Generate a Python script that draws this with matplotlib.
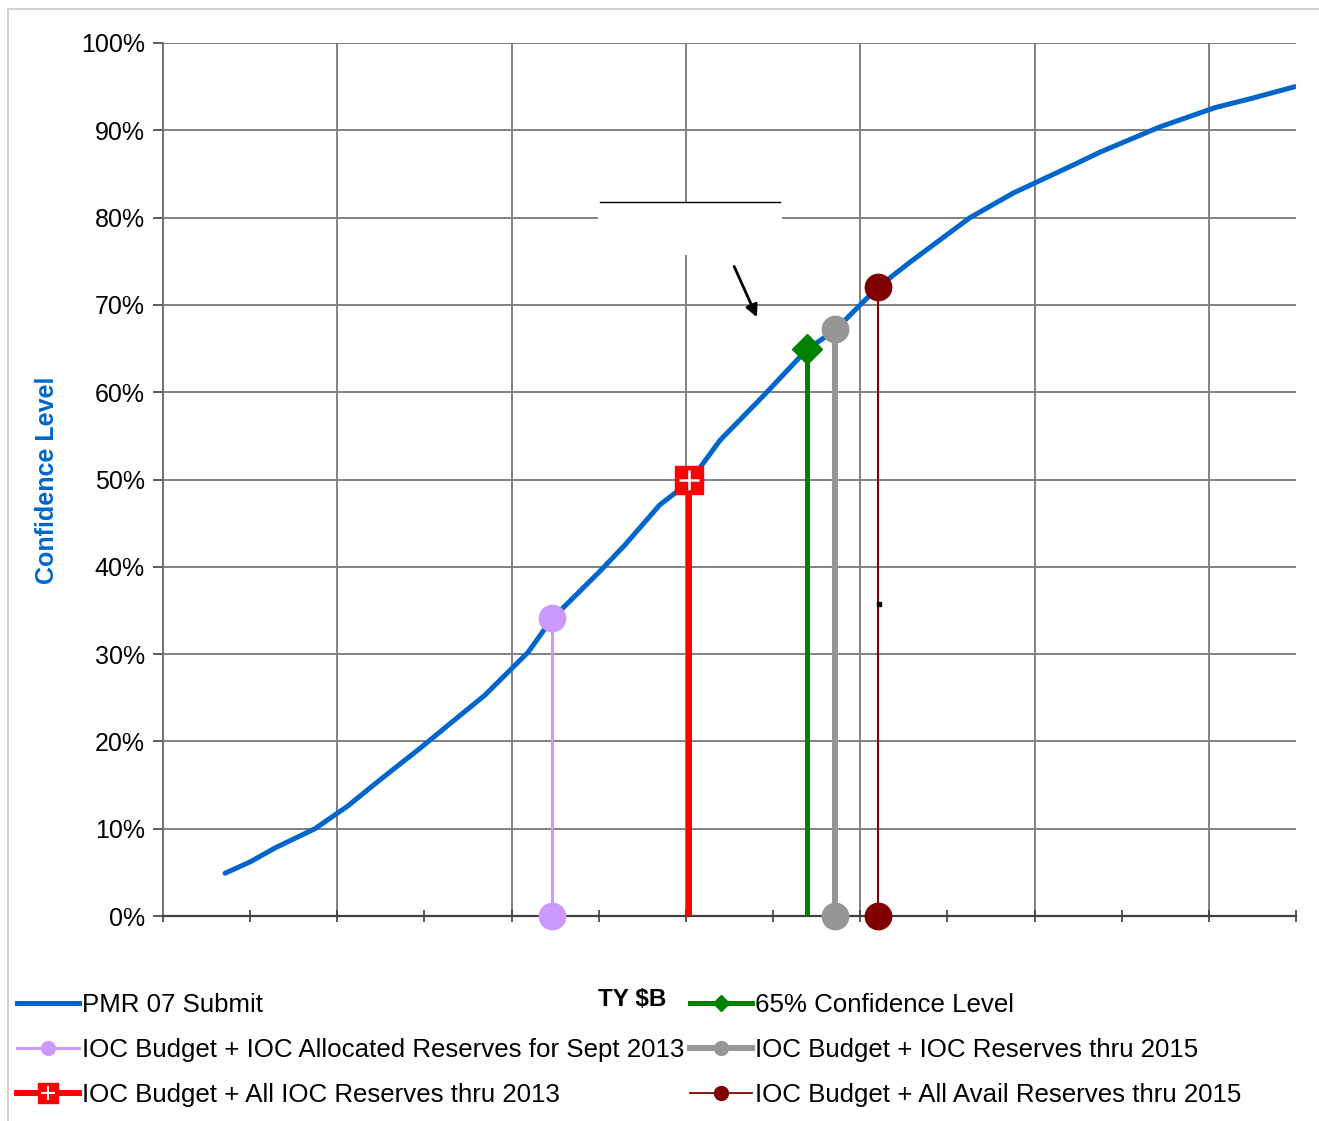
import numpy as np
import matplotlib
matplotlib.use("Agg")
import matplotlib.pyplot as plt
from matplotlib.lines import Line2D
from matplotlib.patches import Rectangle

plt.rcParams['font.family'] = ['Liberation Sans', 'DejaVu Sans']

# S-curve: cost (TY $B, arbitrary axis units) vs confidence level (%)
cost = [0.356, 0.50, 0.643, 0.872, 1.06, 1.245, 1.474, 1.675, 1.847, 2.094, 2.23,
        2.507, 2.65, 2.85, 3.02, 3.196, 3.45, 3.695, 3.855, 4.10, 4.286, 4.63,
        4.877, 5.23, 5.376, 5.72, 5.835, 6.036, 6.254, 6.494]
conf = [4.9, 6.2, 7.8, 10.0, 12.6, 15.6, 19.2, 22.5, 25.3, 30.2, 34.0,
        39.5, 42.5, 47.1, 49.7, 54.5, 59.7, 64.9, 67.1, 72.0, 74.9, 80.0,
        82.8, 86.1, 87.5, 90.4, 91.2, 92.6, 93.7, 95.0]

# reference points
alloc_x, alloc_y = 2.232, 34.1      # IOC Allocated Reserves Sept 2013
all13_x, all13_y = 3.018, 50.0      # All IOC Reserves thru 2013
c65_x, c65_y = 3.695, 65.0          # 65% confidence
ioc15_x, ioc15_y = 3.855, 67.2      # IOC Reserves thru 2015
avail_x, avail_y = 4.102, 72.1      # All Avail Reserves thru 2015

labels = ['PMR 07 Submit',
          'IOC Budget + IOC Allocated Reserves for Sept 2013',
          'IOC Budget + All IOC Reserves thru 2013',
          '65% Confidence Level',
          'IOC Budget + IOC Reserves thru 2015',
          'IOC Budget + All Avail Reserves thru 2015']

blue = '#0066CC'
lav = '#CC99FF'
red = '#FF0000'
green = '#008000'
grey = '#969696'
maroon = '#800000'

W, H = 1319, 1121
fig = plt.figure(figsize=(W / 100, H / 100), dpi=100)
ax = fig.add_axes([163 / W, 1 - 916 / H, (1296 - 163) / W, (916 - 43) / H])

# outer frame
fig.patches.append(Rectangle((8 / W, -0.1), 1.2, 1 - 9 / H + 0.1, transform=fig.transFigure,
                             fill=False, edgecolor='#D0D0D0', lw=1.5))

ax.set_xlim(0, 6.5)
ax.set_ylim(0, 100)
ax.set_xticks(np.arange(0, 7, 1.0))
ax.set_xticks(np.arange(0.5, 6.6, 1.0), minor=True)
ax.set_xticklabels([])
ax.set_yticks(np.arange(0, 101, 10))
ax.set_yticklabels(['%d%%' % v for v in range(0, 101, 10)], fontsize=18)
ax.tick_params(axis='x', which='both', direction='inout', length=9, width=1.2, color='#404040')
ax.tick_params(axis='y', direction='out', length=7, width=1.2, color='#404040', pad=6)
ax.grid(True, which='major', color='#808080', lw=1.4)
ax.set_axisbelow(True)
for s in ['top', 'right']:
    ax.spines[s].set_visible(False)
ax.spines['left'].set_color('#707070')
ax.spines['left'].set_linewidth(1.4)
ax.spines['bottom'].set_color('#404040')
ax.spines['bottom'].set_linewidth(1.6)

# blank callout box with arrow
ax.add_patch(Rectangle((2.496, 75.7), 1.055, 6.1, facecolor='white', edgecolor='none', zorder=1.5))
ax.plot([2.507, 3.54], [81.8, 81.8], color='black', lw=1, zorder=1.6)
ax.annotate('', xy=(3.414, 68.3), xytext=(3.270, 74.7),
            arrowprops=dict(arrowstyle='-|>', color='black', lw=2, mutation_scale=18), zorder=2)

ax.plot(cost, conf, color=blue, lw=3.6, solid_capstyle='round', zorder=3)

ax.plot([alloc_x, alloc_x], [0, alloc_y], color=lav, lw=2.2, marker='o', ms=19,
        markeredgecolor=lav, zorder=4, clip_on=False)
ax.plot([all13_x, all13_x], [0, all13_y], color=red, lw=4.3, zorder=4)
ax.plot([all13_x], [all13_y], color=red, marker='s', ms=19.5, ls='none', zorder=5)
ax.plot([all13_x], [all13_y], color='white', marker='+', ms=15, mew=1.8, ls='none', zorder=6)
ax.plot([c65_x, c65_x], [0, c65_y], color=green, lw=3.6, zorder=4)
ax.plot([c65_x], [c65_y], color=green, marker='D', ms=15, ls='none', zorder=5)
ax.plot([ioc15_x, ioc15_x], [0, ioc15_y], color=grey, lw=4.3, marker='o', ms=19, zorder=4,
        clip_on=False)
ax.plot([avail_x, avail_x], [0, avail_y], color=maroon, lw=1.5, marker='o', ms=19, zorder=4,
        clip_on=False)
ax.plot([4.108], [35.7], color='black', marker='s', ms=2.5, ls='none', zorder=5)

# axis titles
fig.text(47 / W, 1 - 480 / H, 'Confidence Level', rotation=90, color=blue, fontsize=18,
         fontweight='bold', ha='center', va='center')
fig.text(632 / W, 1 - 999 / H, 'TY $B', fontsize=17.5, fontweight='bold', ha='center', va='center')

# legend
h_pmr = Line2D([], [], color=blue, lw=3.6)
h_lav = Line2D([], [], color=lav, lw=2.2, marker='o', ms=10)
h_red = (Line2D([], [], color=red, lw=4.3, marker='s', ms=14),
         Line2D([], [], color='white', marker='+', ms=10, mew=1.5, ls='none'))
h_grn = Line2D([], [], color=green, lw=3.6, marker='D', ms=8)
h_gry = Line2D([], [], color=grey, lw=4.3, marker='o', ms=10)
h_mar = Line2D([], [], color=maroon, lw=1.3, marker='o', ms=10)
fig.legend([h_pmr, h_lav, h_red, h_grn, h_gry, h_mar], labels, ncol=2,
           loc='upper left', bbox_to_anchor=(17 / W, 1 - 993 / H), frameon=False,
           fontsize=18.6, handlelength=2.4, handletextpad=0.1, columnspacing=0.25,
           labelspacing=0.81, borderaxespad=0, borderpad=0)

fig.savefig('out.png', dpi=100)
